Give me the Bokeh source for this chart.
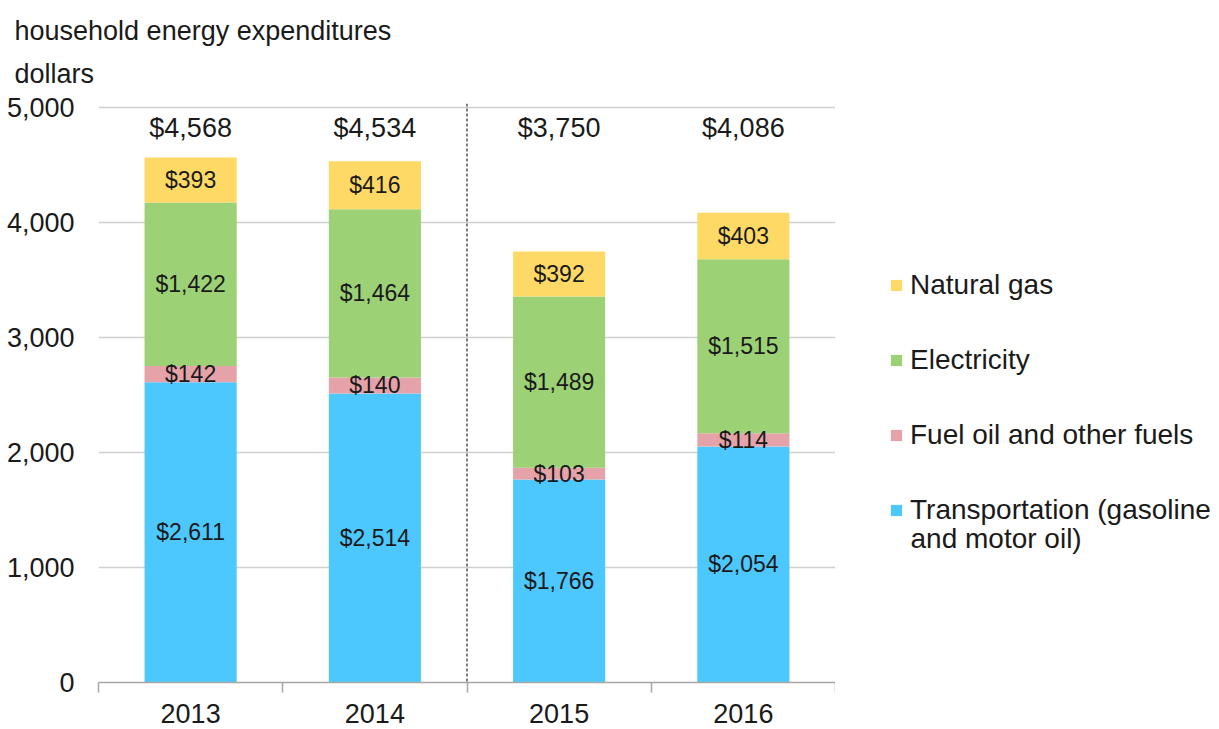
from bokeh.plotting import figure
from bokeh.layouts import row
from bokeh.models import (ColumnDataSource, Range1d, FixedTicker, NumeralTickFormatter,
                          LabelSet, Label, Span, Legend, LegendItem, Title)
from bokeh.core.properties import value
from bokeh.embed import file_html
from bokeh.resources import INLINE

# ---------------- data ----------------
years = ["2013", "2014", "2015", "2016"]
transportation = [2611, 2514, 1766, 2054]
fuel_oil = [142, 140, 103, 114]
electricity = [1422, 1464, 1489, 1515]
natural_gas = [393, 416, 392, 403]
totals = [4568, 4534, 3750, 4086]
series_names = ["Transportation (gasoline", "Fuel oil and other fuels",
                "Electricity", "Natural gas"]
legend_extra_line = "and motor oil)"
y_ticks = [0, 1000, 2000, 3000, 4000, 5000]
title_lines = ["household  energy expenditures", "dollars"]

# ---------------- style ----------------
colors = ["#4DC8FF", "#E5A3A9", "#9CD176", "#FFD966"]
FONT = "Liberation Sans"
TEXT = "#1A1A1A"
TOTAL_Y = 4820

keys = ["transportation", "fuel_oil", "electricity", "natural_gas"]
series = [transportation, fuel_oil, electricity, natural_gas]
n = len(years)
xc = [i + 0.5 for i in range(n)]

src = ColumnDataSource(dict(x=xc, year=years, **{k: v for k, v in zip(keys, series)}))

p = figure(frame_width=737, frame_height=579, min_border_left=98, min_border_top=103,
           min_border_right=0, min_border_bottom=47, title_location=None,
           x_range=Range1d(0, n), y_range=Range1d(0, 5037),
           output_backend="svg", toolbar_location=None)

# two-line title above the frame
p.add_layout(Title(text="\n".join(title_lines), align="left", offset=-84, standoff=28,
                   text_font=FONT, text_font_size="27px", text_font_style="normal",
                   text_line_height=1.44, text_color=TEXT), "above")

rs = p.vbar_stack(keys, x="x", width=0.5, fill_color=colors, line_color=None, source=src)

# segment labels
lx, ly, lt = [], [], []
for i in range(n):
    base = 0
    for vals in series:
        v = vals[i]
        lx.append(xc[i])
        ly.append(base + v / 2)
        lt.append(f"${v:,}")
        base += v
seg_src = ColumnDataSource(dict(x=lx, y=ly, t=lt))
p.add_layout(LabelSet(x="x", y="y", text="t", source=seg_src, text_align="center",
                      text_baseline="middle", text_font=value(FONT), text_font_size="23px",
                      text_color=TEXT))

tot_src = ColumnDataSource(dict(x=xc, y=[TOTAL_Y] * n, t=[f"${v:,}" for v in totals]))
p.add_layout(LabelSet(x="x", y="y", text="t", source=tot_src, text_align="center",
                      text_baseline="middle", text_font=value(FONT), text_font_size="27px",
                      text_color=TEXT))

# dashed separator between 2014 and 2015
p.add_layout(Span(location=years.index("2015"), dimension="height", line_color="black",
                  line_width=1, line_dash="3 2"))

# axes
xa = p.xaxis[0]
xa.ticker = FixedTicker(ticks=xc, minor_ticks=list(range(n + 1)))
xa.major_label_overrides = {x: y for x, y in zip(xc, years)}
xa.major_tick_line_color = None
xa.major_tick_out = 0
xa.minor_tick_line_color = "#A6A6A6"
xa.minor_tick_line_width = 1.5
xa.minor_tick_out = 10
xa.minor_tick_in = 0
xa.axis_line_color = "#A6A6A6"
xa.axis_line_width = 1.5
xa.major_label_standoff = 11
xa.major_label_text_font = FONT
xa.major_label_text_font_size = "27px"
xa.major_label_text_color = TEXT

ya = p.yaxis[0]
ya.ticker = FixedTicker(ticks=y_ticks)
ya.formatter = NumeralTickFormatter(format="0,0")
ya.axis_line_color = None
ya.major_tick_line_color = None
ya.minor_tick_line_color = None
ya.major_tick_out = 0
ya.major_label_standoff = 24
ya.major_label_text_font = FONT
ya.major_label_text_font_size = "27px"
ya.major_label_text_color = TEXT

p.xgrid.visible = False
p.ygrid.ticker = FixedTicker(ticks=y_ticks)
p.ygrid.grid_line_color = "#D0D0D0"
p.ygrid.grid_line_width = 1.5
p.outline_line_color = None

# ---------------- legend (own canvas to the right of the chart) ----------------
lf = figure(width=380, height=729, min_border=0, x_axis_type=None, y_axis_type=None,
            x_range=Range1d(0, 1), y_range=Range1d(0, 1), title_location=None,
            output_backend="svg", toolbar_location=None)
lf.outline_line_color = None
# zero-width bars: only their legend swatches are seen
swatches = [lf.vbar(x="x", top=k, width=0, source=src, fill_color=c, line_color=None)
            for k, c in zip(keys, colors)]
items = [LegendItem(label=name, renderers=[r]) for name, r in zip(series_names, swatches)][::-1]
legend = Legend(items=items, location=(54, 156), glyph_width=14, glyph_height=14,
                label_standoff=7, spacing=43, padding=0, margin=0,
                border_line_color=None, background_fill_alpha=0,
                label_text_font=FONT, label_text_font_size="28px", label_text_color=TEXT)
lf.add_layout(legend)
lf.add_layout(Label(x=75, y=144, x_units="screen", y_units="screen", text=legend_extra_line,
                    text_font=FONT, text_font_size="28px", text_color=TEXT,
                    text_baseline="middle"))

open("out.html", "w").write(file_html(row(p, lf), INLINE))
